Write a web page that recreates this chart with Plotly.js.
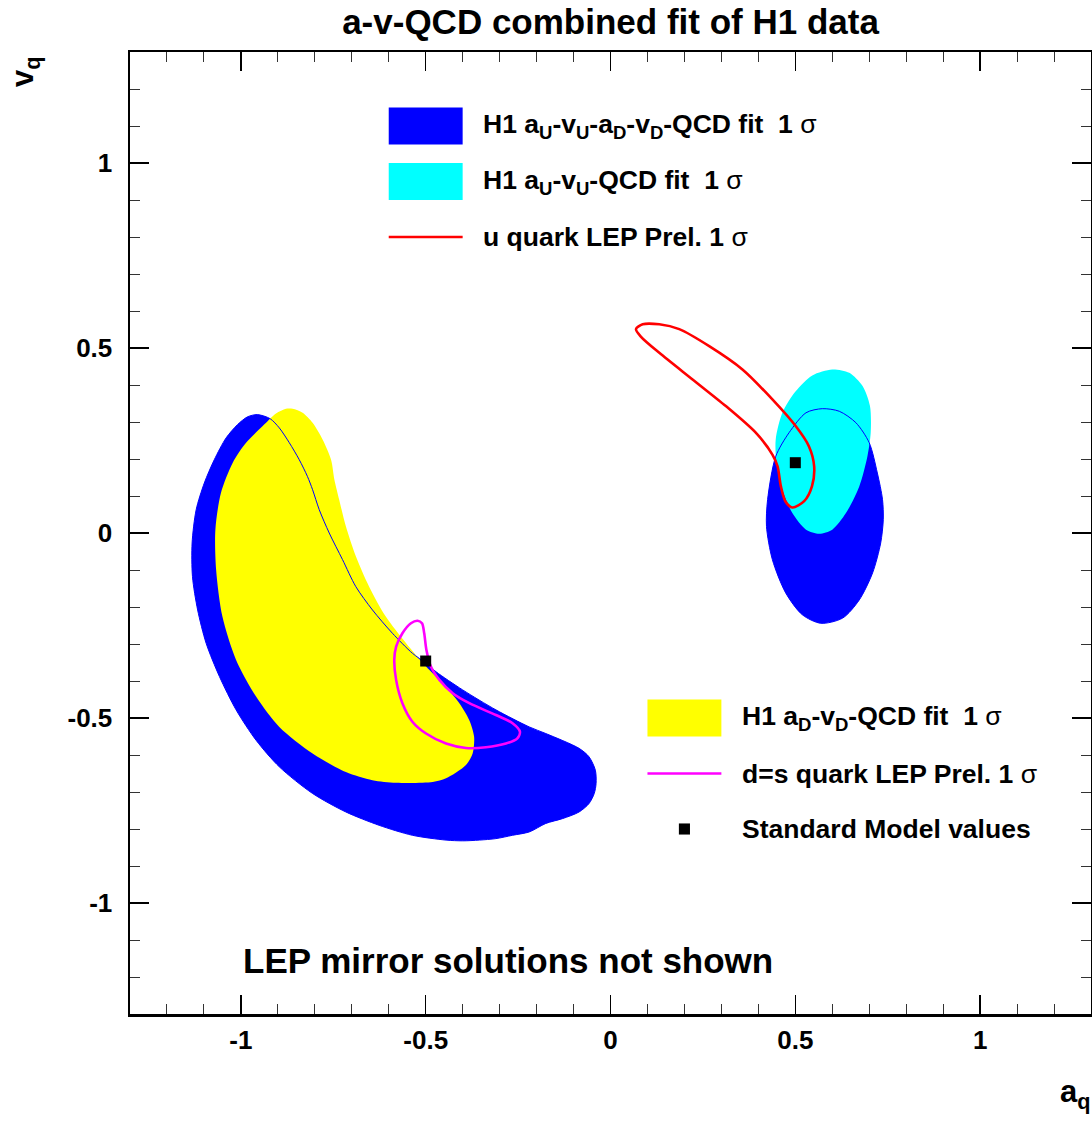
<!DOCTYPE html>
<html><head><meta charset="utf-8">
<script src="https://cdn.plot.ly/plotly-3.0.1.min.js"></script>
<style>html,body{margin:0;padding:0;background:#fff}</style>
</head><body><div id="chart" style="width:1092px;height:1121px"></div>
<script>
// H1 aU-vU-aD-vD-QCD fit, 1 sigma (d-type quark region, dark blue)
const blueDA = [-0.955,-0.921,-0.896,-0.869,-0.842,-0.820,-0.806,-0.788,-0.761,-0.725,-0.689,-0.644,-0.590,-0.536,-0.499,-0.472,-0.400,-0.310,-0.220,-0.175,-0.085,-0.058,-0.041,-0.039,-0.044,-0.058,-0.085,-0.130,-0.175,-0.220,-0.265,-0.310,-0.355,-0.400,-0.445,-0.536,-0.626,-0.716,-0.806,-0.896,-0.959,-1.013,-1.058,-1.094,-1.117,-1.131,-1.132,-1.121,-1.099,-1.072,-1.040,-1.009,-0.982,-0.955];
const blueDV = [0.320,0.309,0.284,0.244,0.198,0.153,0.117,0.063,0.000,-0.072,-0.145,-0.208,-0.271,-0.325,-0.352,-0.375,-0.424,-0.478,-0.524,-0.542,-0.582,-0.605,-0.641,-0.677,-0.704,-0.731,-0.754,-0.772,-0.785,-0.808,-0.817,-0.826,-0.830,-0.832,-0.830,-0.817,-0.790,-0.754,-0.704,-0.632,-0.560,-0.478,-0.388,-0.298,-0.208,-0.118,-0.027,0.063,0.135,0.198,0.257,0.293,0.314,0.320];
// H1 aU-vU-aD-vD-QCD fit, 1 sigma (u-type quark region, dark blue)
const blueUA = [0.573,0.619,0.664,0.700,0.722,0.736,0.738,0.731,0.709,0.673,0.628,0.569,0.519,0.474,0.438,0.422,0.425,0.447,0.483,0.529,0.573];
const blueUV = [0.336,0.329,0.298,0.244,0.162,0.090,0.036,-0.027,-0.108,-0.181,-0.230,-0.244,-0.221,-0.162,-0.072,0.018,0.090,0.207,0.271,0.325,0.336];
// H1 aD-vD-QCD fit, 1 sigma (yellow)
const yellowA = [-0.860,-0.833,-0.806,-0.779,-0.756,-0.747,-0.734,-0.716,-0.689,-0.653,-0.608,-0.553,-0.499,-0.454,-0.409,-0.382,-0.369,-0.373,-0.391,-0.445,-0.481,-0.580,-0.644,-0.716,-0.806,-0.896,-0.959,-1.013,-1.050,-1.067,-1.069,-1.054,-1.022,-0.986,-0.941,-0.905,-0.878,-0.860];
const yellowV = [0.336,0.325,0.298,0.253,0.198,0.144,0.090,0.018,-0.063,-0.145,-0.226,-0.298,-0.361,-0.406,-0.460,-0.506,-0.551,-0.596,-0.627,-0.663,-0.673,-0.675,-0.668,-0.646,-0.596,-0.524,-0.442,-0.343,-0.226,-0.099,0.009,0.108,0.190,0.244,0.289,0.323,0.336,0.336];
// H1 aU-vU-QCD fit, 1 sigma (cyan)
const cyanA = [0.600,0.646,0.682,0.702,0.704,0.695,0.673,0.637,0.600,0.565,0.529,0.492,0.465,0.449,0.447,0.465,0.501,0.546,0.600];
const cyanV = [0.442,0.433,0.397,0.343,0.271,0.207,0.126,0.054,0.009,-0.002,0.009,0.054,0.117,0.190,0.253,0.325,0.383,0.426,0.442];
// u quark LEP Prel. 1 sigma (red)
const lepUA = [0.069,0.087,0.132,0.186,0.267,0.357,0.438,0.501,0.537,0.551,0.545,0.524,0.492,0.473,0.461,0.452,0.438,0.393,0.312,0.222,0.132,0.082,0.069];
const lepUV = [0.551,0.564,0.564,0.551,0.505,0.442,0.361,0.289,0.234,0.180,0.126,0.086,0.069,0.086,0.126,0.180,0.212,0.271,0.343,0.415,0.487,0.531,0.551];
// d=s quark LEP Prel. 1 sigma (magenta)
const lepDA = [-0.522,-0.510,-0.504,-0.498,-0.486,-0.463,-0.427,-0.382,-0.310,-0.265,-0.245,-0.252,-0.283,-0.337,-0.391,-0.445,-0.499,-0.536,-0.563,-0.580,-0.585,-0.580,-0.563,-0.540,-0.522];
const lepDV = [-0.237,-0.244,-0.271,-0.316,-0.361,-0.397,-0.433,-0.460,-0.492,-0.514,-0.537,-0.555,-0.569,-0.579,-0.581,-0.569,-0.542,-0.510,-0.460,-0.397,-0.343,-0.307,-0.271,-0.244,-0.237];
// Standard Model values (u, d)
const smA = [0.5, -0.5];
const smV = [0.19, -0.346];
// axis ticks
const tickVals = [-1, -0.5, 0, 0.5, 1];
const tickText = ["-1", "-0.5", "0", "0.5", "1"];

const FONT = "Liberation Sans, Arial, Helvetica, sans-serif";
const SIG = "<span style='font-weight:normal'>\u03c3</span>";

function fillTrace(x, y, color) {
  return {x: x, y: y, type: 'scatter', mode: 'lines', fill: 'toself', fillcolor: color,
    line: {width: 0, color: color, shape: 'spline', smoothing: 0.8}, hoverinfo: 'skip', showlegend: false};
}
function lineTrace(x, y, color, w) {
  return {x: x, y: y, type: 'scatter', mode: 'lines',
    line: {width: w, color: color, shape: 'spline', smoothing: 0.8}, hoverinfo: 'skip', showlegend: false};
}

const data = [
  fillTrace(blueDA, blueDV, '#0000FF'),
  fillTrace(blueUA, blueUV, '#0000FF'),
  fillTrace(yellowA, yellowV, '#FFFF00'),
  fillTrace(cyanA, cyanV, '#00FFFF'),
  lineTrace(blueDA, blueDV, '#0000FF', 1),
  lineTrace(blueUA, blueUV, '#0000FF', 1),
  lineTrace(lepUA, lepUV, '#FF0000', 2.6),
  lineTrace(lepDA, lepDV, '#FF00FF', 2.6),
  {x: smA, y: smV, type: 'scatter', mode: 'markers',
   marker: {symbol: 'square', size: 11, color: '#000'}, showlegend: false, hoverinfo: 'skip'}
];

const axisCommon = {
  range: [-1.3, 1.3], tickmode: 'array', tickvals: tickVals, ticktext: tickText,
  ticks: 'inside', ticklen: 19, tickwidth: 1.5, tickcolor: '#000',
  minor: {tickmode: 'linear', tick0: 0, dtick: 0.1, ticks: 'inside', ticklen: 10, tickwidth: 1, tickcolor: '#333'},
  showline: true, linecolor: '#000', linewidth: 2.5, mirror: 'allticks',
  showgrid: false, zeroline: false,
  tickfont: {family: FONT, size: 26, color: '#000', weight: 'bold'}
};

function legendText(x, y, txt) {
  return {xref: 'x', yref: 'y', x: x, y: y, xanchor: 'left', yanchor: 'middle', showarrow: false,
    text: txt, font: {family: FONT, size: 26.5, color: '#000', weight: 'bold'}};
}

const layout = {
  width: 1092, height: 1121,
  margin: {l: 130, r: 1, t: 52, b: 107},
  paper_bgcolor: '#fff', plot_bgcolor: '#fff',
  font: {family: FONT, color: '#000', weight: 'bold'},
  title: {text: 'a-v-QCD combined fit of H1 data', x: 0.5, xref: 'paper', y: 1 - 22/1121, yref: 'container', yanchor: 'middle',
    font: {family: FONT, size: 35, color: '#000', weight: 'bold'}},
  xaxis: Object.assign({}, axisCommon, {ticklabelstandoff: 1}),
  yaxis: Object.assign({}, axisCommon, {ticklabelstandoff: 10}),
  shapes: [
    {type: 'rect', xref: 'x', yref: 'y', x0: -0.6, x1: -0.4, y0: 1.05, y1: 1.15, fillcolor: '#0000FF', line: {width: 0}},
    {type: 'rect', xref: 'x', yref: 'y', x0: -0.6, x1: -0.4, y0: 0.9, y1: 1.0, fillcolor: '#00FFFF', line: {width: 0}},
    {type: 'line', xref: 'x', yref: 'y', x0: -0.6, x1: -0.4, y0: 0.8, y1: 0.8, line: {color: '#FF0000', width: 2.5}},
    {type: 'rect', xref: 'x', yref: 'y', x0: 0.1, x1: 0.3, y0: -0.55, y1: -0.45, fillcolor: '#FFFF00', line: {width: 0}},
    {type: 'line', xref: 'x', yref: 'y', x0: 0.1, x1: 0.3, y0: -0.65, y1: -0.65, line: {color: '#FF00FF', width: 2.5}},
    {type: 'rect', xref: 'x', yref: 'y', x0: 0.185, x1: 0.215, y0: -0.815, y1: -0.785, fillcolor: '#000', line: {width: 0}}
  ],
  annotations: [
    legendText(-0.35, 1.1, 'H1 a<sub>U</sub>-v<sub>U</sub>-a<sub>D</sub>-v<sub>D</sub>-QCD fit\u00a0 1 ' + SIG),
    legendText(-0.35, 0.95, 'H1 a<sub>U</sub>-v<sub>U</sub>-QCD fit\u00a0 1 ' + SIG),
    legendText(-0.35, 0.8, 'u quark LEP Prel. 1 ' + SIG),
    legendText(0.35, -0.5, 'H1 a<sub>D</sub>-v<sub>D</sub>-QCD fit\u00a0 1 ' + SIG),
    legendText(0.35, -0.65, 'd=s quark LEP Prel. 1 ' + SIG),
    legendText(0.35, -0.8, 'Standard Model values'),
    {xref: 'x', yref: 'y', x: -1.0, y: -1.155, xanchor: 'left', yanchor: 'middle', showarrow: false,
     text: 'LEP mirror solutions not shown', font: {family: FONT, size: 35, color: '#000', weight: 'bold'}},
    {xref: 'paper', yref: 'paper', x: (25-130)/961, y: (1014-72)/962, xanchor: 'center', yanchor: 'middle', showarrow: false,
     textangle: -90, text: 'v<sub>q</sub>', font: {family: FONT, size: 31, color: '#000', weight: 'bold'}},
    {xref: 'paper', yref: 'paper', x: (1075-130)/961, y: (1014-1094)/962, xanchor: 'center', yanchor: 'middle', showarrow: false,
     text: 'a<sub>q</sub>', font: {family: FONT, size: 31, color: '#000', weight: 'bold'}}
  ]
};

Plotly.newPlot('chart', data, layout, {staticPlot: true, displayModeBar: false});
</script>
</body></html>
